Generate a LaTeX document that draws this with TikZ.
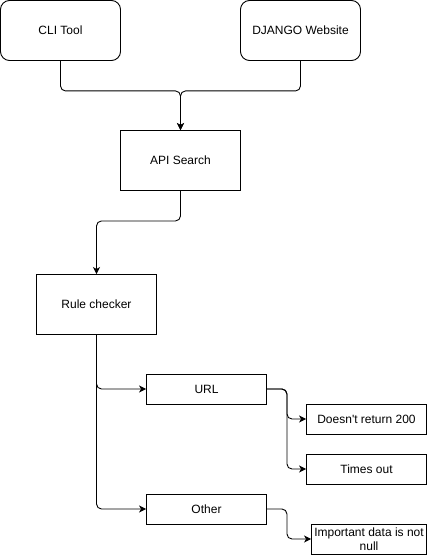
\documentclass[tikz,border=0pt]{standalone}
\usepackage{fontspec}
\setmainfont{Liberation Sans}
\usetikzlibrary{arrows.meta}

\tikzset{
	box/.style={draw, line width=0.9pt, minimum width=120pt, minimum height=60pt, inner sep=2pt, font=\fontsize{12}{14}\selectfont},
	roundbox/.style={box, rounded corners=9pt},
	smallbox/.style={box, minimum height=30pt},
	flow/.style={line width=0.9pt, rounded corners=5pt, -{Stealth[length=7pt,width=7pt,inset=2pt]}}
}

\begin{document}
\begin{tikzpicture}[x=1pt,y=-1pt]
		\useasboundingbox (0,0) rectangle (427,556);
		
		\node[roundbox] (cli) at (60.5,30.5) {CLI Tool};
		\node[roundbox] (django) at (300.5,30.5) {DJANGO Website};
		\node[box] (api) at (180.5,160.5) {API Search};
		\node[box] (rule) at (96.5,304.5) {Rule checker};
		
		\node[smallbox] (url) at (206.5,389) {URL};
		\node[smallbox] (other) at (206.5,509) {Other};
		\node[smallbox] (status) at (366.5,419) {Doesn\textquotesingle t return 200};
		\node[smallbox] (timeout) at (366.5,469) {Times out};
		\node[smallbox, minimum width=115pt, inner sep=0pt, align=center] (notnull) at (369,539) {Important data is not\\null};
		
		\draw[flow] (cli.south) -- ++(0,30) -| (api.north);
		\draw[flow] (django.south) -- ++(0,30) -| (api.north);
		\draw[flow] (api.south) -- ++(0,30) -| (rule.north);
		
		\draw[flow] (rule.south) |- (url.west);
		\draw[flow] (rule.south) |- (other.west);
		
		\draw[flow] (url.east) -- ++(20,0) |- (status.west);
		\draw[flow] (url.east) -- ++(20,0) |- (timeout.west);
		\draw[flow] (other.east) -- ++(20,0) |- (notnull.west);
	\end{tikzpicture}
\end{document}
